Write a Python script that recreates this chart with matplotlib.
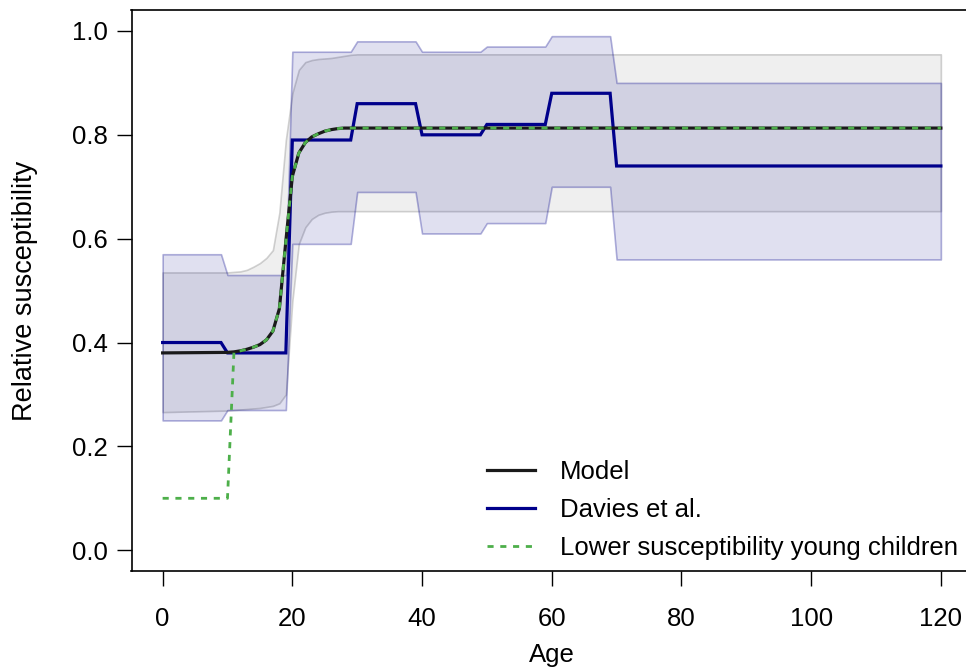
import numpy as np
import matplotlib
matplotlib.use("Agg")
import matplotlib.pyplot as plt

plt.rcParams['font.family'] = ['Liberation Sans', 'DejaVu Sans']

# ---- Model (ages with explicit points) ----
model_age = [0, 10, 11, 12, 13, 14, 15, 16, 17, 18, 19, 20, 21, 22, 23, 24, 25,
             26, 27, 28, 29, 30, 120]
model_val = [0.380, 0.381, 0.382, 0.384, 0.387, 0.391, 0.396, 0.405, 0.422, 0.465,
             0.595, 0.720, 0.765, 0.785, 0.796, 0.802, 0.807, 0.810, 0.812, 0.813,
             0.813, 0.813, 0.813]
model_hi = [0.535, 0.535, 0.536, 0.537, 0.540, 0.546, 0.553, 0.563, 0.578, 0.650,
            0.790, 0.880, 0.925, 0.940, 0.944, 0.946, 0.947, 0.948, 0.950, 0.952,
            0.954, 0.955, 0.955]
model_lo = [0.266, 0.269, 0.270, 0.271, 0.272, 0.273, 0.274, 0.276, 0.278, 0.283,
            0.300, 0.480, 0.590, 0.622, 0.638, 0.646, 0.650, 0.652, 0.653, 0.653,
            0.653, 0.653, 0.653]

# ---- Davies et al. (10-year age bands) ----
davies_start = [0, 10, 20, 30, 40, 50, 60, 70]
davies_end = [9, 19, 29, 39, 49, 59, 69, 120]
davies_mean = [0.40, 0.38, 0.79, 0.86, 0.80, 0.82, 0.88, 0.74]
davies_lo = [0.25, 0.27, 0.59, 0.69, 0.61, 0.63, 0.70, 0.56]
davies_hi = [0.57, 0.53, 0.96, 0.98, 0.96, 0.97, 0.99, 0.90]

# ---- Lower susceptibility young children (ages 0-10), then model ----
child_age = [0, 10]
child_val = [0.10, 0.10]

xticks = [0, 20, 40, 60, 80, 100, 120]
yticks = [0.0, 0.2, 0.4, 0.6, 0.8, 1.0]

# expand band data into line points
d_age, d_mean, d_lo, d_hi = [], [], [], []
for s, e, m, lo, hi in zip(davies_start, davies_end, davies_mean, davies_lo, davies_hi):
    d_age += [s, e]
    d_mean += [m, m]
    d_lo += [lo, lo]
    d_hi += [hi, hi]

g_age = list(child_age) + [a for a in model_age if a > 10]
g_val = list(child_val) + [v for a, v in zip(model_age, model_val) if a > 10]

fig = plt.figure(figsize=(9.66, 6.71), dpi=100)
ax = fig.add_axes([131.5 / 966, (671 - 571) / 671, (972 - 131.5) / 966, (571 - 10.2) / 671])

navy = '#00008B'
ax.fill_between(model_age, model_lo, model_hi, facecolor=(0.5, 0.5, 0.5, 0.12),
                edgecolor=(0.5, 0.5, 0.5, 0.35), linewidth=1.2, zorder=1)
ax.fill_between(d_age, d_lo, d_hi, facecolor=(0, 0, 0.545, 0.12),
                edgecolor=(0, 0, 0.545, 0.3), linewidth=1.2, zorder=2)
ax.plot(d_age, d_mean, color=navy, lw=2.3, zorder=3, label='Davies et al.',
        solid_joinstyle='miter')
ax.plot(model_age, model_val, color='#1a1a1a', lw=2.3, zorder=4, label='Model')
ax.plot(g_age, g_val, color='#4DAF4A', lw=2.0, dashes=(2.2, 2.4), zorder=5,
        label='Lower susceptibility young children')

ax.set_xlim(-4.8, 124.8)
ax.set_ylim(-0.04, 1.04)
ax.set_xticks(xticks)
ax.set_xticklabels([str(t) for t in xticks])
ax.set_yticks(yticks)
ax.set_yticklabels([f'{t:.1f}' for t in yticks])
ax.tick_params(axis='both', direction='out', length=11, width=1.0, labelsize=18.5, color='black')
ax.tick_params(axis='x', pad=15)
ax.tick_params(axis='y', pad=6)
for sp in ax.spines.values():
    sp.set_linewidth(1.2)

ax.set_xlabel('Age', fontsize=18.5, labelpad=8)
ax.set_ylabel('Relative susceptibility', fontsize=19.5, labelpad=10)
ax.yaxis.set_label_coords(-(131.5 - 25) / 840.5, 0.5)
ax.xaxis.set_label_coords(0.5, -(655 - 571) / 560.8)
ax.xaxis.label.set_va('center')
ax.yaxis.label.set_va('center')

h, l = ax.get_legend_handles_labels()
order = [1, 0, 2]
ax.legend([h[i] for i in order], [l[i] for i in order], loc='upper left',
          bbox_to_anchor=(0.423, 0.198), frameon=False, fontsize=18.5,
          handlelength=1.85, handletextpad=1.0, labelspacing=0.55,
          borderpad=0, borderaxespad=0)

fig.savefig('out.png', dpi=100)
